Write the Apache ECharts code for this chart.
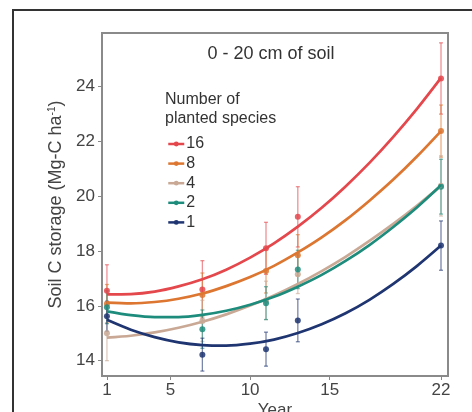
<!DOCTYPE html>
<html>
<head>
<meta charset="utf-8">
<script src="https://cdn.jsdelivr.net/npm/echarts@6/dist/echarts.min.js"></script>
<style>
  html, body { margin: 0; padding: 0; background: #fff; }
  #chart { width: 472px; height: 412px; }
</style>
</head>
<body>
<div id="chart"></div>
<script>
// groups, top to bottom in the legend
const groups = ["16", "8", "4", "2", "1"];
const colors = ["#e4474c", "#dc7630", "#c9a995", "#1e8c7c", "#1f3572"];

// fitted curves
const curveYears = [1, 2.5, 4, 5.5, 7, 8.5, 10, 11.5, 13, 14.5, 16, 17.5, 19, 20.5, 22];
const curve16 = [16.42, 16.43, 16.52, 16.71, 16.97, 17.32, 17.76, 18.28, 18.89, 19.58, 20.36, 21.22, 22.17, 23.2, 24.32];
const curve8 = [16.12, 16.09, 16.14, 16.26, 16.45, 16.72, 17.05, 17.46, 17.95, 18.5, 19.13, 19.84, 20.61, 21.46, 22.38];
const curve4 = [14.84, 14.91, 15.03, 15.2, 15.42, 15.69, 16.01, 16.38, 16.8, 17.27, 17.79, 18.37, 18.99, 19.66, 20.38];
const curve2 = [15.8, 15.66, 15.59, 15.59, 15.67, 15.82, 16.04, 16.33, 16.7, 17.13, 17.64, 18.22, 18.88, 19.6, 20.4];
const curve1 = [15.49, 15.13, 14.86, 14.67, 14.57, 14.55, 14.62, 14.77, 15.01, 15.33, 15.73, 16.22, 16.8, 17.46, 18.2];

// observed means and error bar half widths
const years = [1, 7, 11, 13, 22];
const mean16 = [16.55, 16.6, 18.1, 19.25, 24.3];
const mean8 = [16.08, 16.4, 17.27, 17.85, 22.38];
const mean4 = [15.0, 15.45, 16.2, 17.15, 20.38];
const mean2 = [15.95, 15.15, 16.1, 17.33, 20.35];
const mean1 = [15.62, 14.22, 14.42, 15.47, 18.2];
const err16 = [0.95, 1.05, 0.95, 1.1, 1.3];
const err8 = [0.7, 0.8, 0.8, 0.75, 0.95];
const err4 = [1.0, 0.75, 0.7, 0.7, 1.1];
const err2 = [0.6, 0.7, 0.6, 0.7, 1.0];
const err1 = [0.55, 0.6, 0.62, 0.78, 0.9];

const xTicks = [1, 5, 10, 15, 22];
const yTicks = [14, 16, 18, 20, 22, 24];

const curves = [curve16, curve8, curve4, curve2, curve1];
const means = [mean16, mean8, mean4, mean2, mean1];
const errs = [err16, err8, err4, err2, err1];

const font = "Liberation Sans, Arial, sans-serif";
const chart = echarts.init(document.getElementById("chart"));

const series = [];
groups.forEach((g, i) => {
  // the curve goes first so the legend takes its line + dot icon
  series.push({
    name: g,
    type: "line",
    z: 3,
    smooth: 0.3,
    symbol: "none",
    lineStyle: { color: colors[i], width: 2.7 },
    itemStyle: { color: colors[i] },
    data: curveYears.map((y, k) => [y, curves[i][k]]),
  });
  series.push({
    name: g,
    type: "custom",
    z: 1,
    silent: true,
    renderItem: (params, api) => {
      const x = api.value(0);
      const top = api.coord([x, api.value(2)]);
      const bot = api.coord([x, api.value(1)]);
      const style = { stroke: colors[i], lineWidth: 1.3, opacity: 0.6 };
      return {
        type: "group",
        children: [
          { type: "line", shape: { x1: top[0], y1: top[1], x2: bot[0], y2: bot[1] }, style },
          { type: "line", shape: { x1: top[0] - 2, y1: top[1], x2: top[0] + 2, y2: top[1] }, style },
          { type: "line", shape: { x1: bot[0] - 2, y1: bot[1], x2: bot[0] + 2, y2: bot[1] }, style },
        ],
      };
    },
    data: years.map((y, k) => [y, means[i][k] - errs[i][k], means[i][k] + errs[i][k]]),
  });
  series.push({
    name: g,
    type: "scatter",
    z: 2,
    symbolSize: 6,
    itemStyle: { color: colors[i], opacity: 0.85 },
    data: years.map((y, k) => [y, means[i][k]]),
  });
});

chart.setOption({
  backgroundColor: "#fff",
  animation: false,
  textStyle: { fontFamily: font },
  title: [
    {
      text: "0 - 20 cm of soil",
      left: 266,
      textAlign: "center",
      top: 40,
      textStyle: { fontSize: 18, fontWeight: "normal", color: "#333", fontFamily: font },
    },
    {
      text: "Number of\nplanted species",
      left: 160,
      top: 85,
      textStyle: { fontSize: 16, fontWeight: "normal", color: "#333", lineHeight: 19, fontFamily: font },
    },
  ],
  legend: {
    data: groups.map((g, i) => ({ name: g, itemStyle: { color: colors[i] }, lineStyle: { color: colors[i], width: 2.5 } })),
    orient: "vertical",
    left: 162,
    top: 131,
    itemWidth: 16,
    itemHeight: 6,
    itemGap: 3.6,
    textStyle: { fontSize: 16, color: "#333", padding: [0, 0, 0, -3], fontFamily: font },
  },
  graphic: [
    {
      type: "rect",
      shape: { x: 13, y: 10, width: 480, height: 420 },
      style: { fill: "none", stroke: "#333", lineWidth: 2 },
      silent: true,
    },
  ],
  grid: {
    left: 102,
    top: 33,
    width: 346,
    height: 343,
    outerBoundsMode: "none",
    show: true,
    borderColor: "#8a8a8a",
    borderWidth: 2,
    backgroundColor: "#fff",
  },
  xAxis: {
    type: "value",
    min: 0.69,
    max: 22.44,
    name: "Year",
    nameLocation: "middle",
    nameGap: 26,
    nameMoveOverlap: false,
    nameTextStyle: { fontSize: 17, color: "#444", fontFamily: font, verticalAlign: "top" },
    axisLine: { show: false },
    splitLine: { show: false },
    axisTick: { show: true, length: 4, customValues: xTicks, lineStyle: { color: "#888" } },
    axisLabel: { customValues: xTicks, fontSize: 17, color: "#444", margin: 6, fontFamily: font },
  },
  yAxis: {
    type: "value",
    min: 13.44,
    max: 25.96,
    name: "Soil C storage (Mg-C ha{sup|-1})",
    nameLocation: "middle",
    nameGap: 37,
    nameMoveOverlap: false,
    nameTextStyle: {
      fontSize: 18,
      color: "#444",
      fontFamily: font,
      rich: { sup: { fontSize: 10, verticalAlign: "top", color: "#444", fontFamily: font } },
    },
    axisLine: { show: false },
    splitLine: { show: false },
    axisTick: { show: true, length: 4, customValues: yTicks, lineStyle: { color: "#888" } },
    axisLabel: { customValues: yTicks, fontSize: 17, color: "#444", margin: 7, fontFamily: font },
  },
  series,
});
</script>
</body>
</html>
